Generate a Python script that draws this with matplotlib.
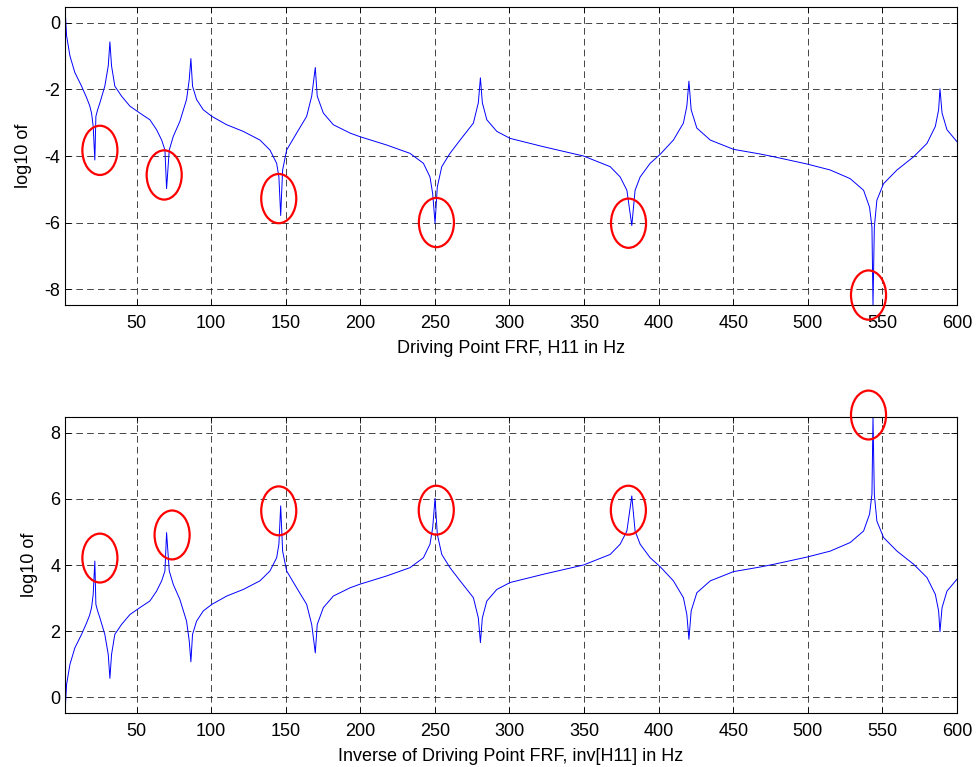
import matplotlib
matplotlib.use("Agg")
import matplotlib.pyplot as plt
from matplotlib.patches import Ellipse
import numpy as np

plt.rcParams['font.family'] = ['Liberation Sans', 'DejaVu Sans']
plt.rcParams['axes.unicode_minus'] = False

# --- Driving point FRF, log10|H11| read along the frequency axis ---
freq_hz = [
    2.0, 3.05, 5.3, 8.6, 13.1, 16.5, 18.5, 19.8, 20.9, 22.0, 22.7,
    23.8, 25.4, 28.7, 31.0, 32.1, 33.2, 35.4, 39.9, 45.5, 52.2, 58.9,
    63.4, 66.8, 69.0, 70.1, 71.9, 74.6, 79.0, 83.5, 85.3, 86.4,
    87.5, 90.2, 94.7, 100.5, 110.4, 121.5, 132.7, 139.4, 143.9, 145.4,
    146.6, 147.9, 150.6, 157.3, 164.0, 167.4, 169.8, 171.1, 175.2, 181.9,
    193.1, 199.8, 217.7, 233.3, 242.3, 246.7, 248.5, 250.1, 251.6, 254.6,
    260.1, 266.9, 275.8, 279.1, 280.5, 281.8, 284.8, 291.5, 300.4, 322.7,
    349.6, 367.5, 374.2, 378.7, 382.0, 384.2, 387.6, 394.3, 401.0, 409.9,
    416.6, 418.9, 420.3, 421.8, 425.6, 434.6, 450.2, 468.1, 477.0, 499.4,
    515.0, 528.4, 537.4, 541.4, 543.0, 543.7, 544.6, 546.3, 550.8, 559.8,
    571.0, 579.9, 585.5, 587.7, 588.6, 590.0, 593.3, 600.0,
]
log_h11 = [
    0.48, -0.38, -0.99, -1.49, -1.90, -2.25, -2.48, -2.71, -3.11, -4.12, -2.81,
    -2.62, -2.40, -1.90, -1.29, -0.57, -1.29, -1.90, -2.20, -2.50, -2.71, -2.91,
    -3.21, -3.52, -3.82, -4.98, -3.82, -3.41, -2.96, -2.30, -1.70, -1.07,
    -1.90, -2.30, -2.61, -2.81, -3.06, -3.26, -3.52, -3.82, -4.22, -4.63,
    -5.79, -4.42, -3.82, -3.31, -2.81, -2.20, -1.34, -2.20, -2.71, -3.06,
    -3.31, -3.42, -3.67, -3.92, -4.22, -4.63, -5.13, -6.02, -4.93, -4.32,
    -3.92, -3.52, -3.01, -2.40, -1.65, -2.40, -2.91, -3.26, -3.47, -3.72,
    -4.00, -4.32, -4.63, -5.03, -6.09, -5.03, -4.63, -4.22, -3.95, -3.52,
    -3.01, -2.50, -1.75, -2.61, -3.16, -3.52, -3.80, -3.94, -4.02, -4.24,
    -4.42, -4.68, -5.03, -5.54, -6.14, -8.48, -6.14, -5.33, -4.83, -4.42,
    -4.02, -3.62, -3.11, -2.61, -1.98, -2.71, -3.21, -3.57,
]

# antiresonances marked on H11, and the matching resonances of inv[H11]
mark_f_top = [25.4, 68.5, 145.3, 251.0, 379.8, 540.7]
mark_y_top = [-3.83, -4.57, -5.28, -6.00, -6.02, -8.18]
mark_f_bot = [25.4, 73.8, 145.3, 250.9, 379.7, 540.7]
mark_y_bot = [4.21, 4.91, 5.64, 5.66, 5.66, 8.54]

f = np.array(freq_hz)
h = np.array(log_h11)
inv_h = -h  # log10(1/H11)

fig = plt.figure(figsize=(9.76, 7.67), dpi=100)
ax1 = fig.add_axes([0.0666, 0.6023, 0.9139, 0.3886])
ax2 = fig.add_axes([0.0666, 0.0704, 0.9139, 0.3859])

panels = [
    (ax1, h, mark_f_top, mark_y_top, [0, -2, -4, -6, -8],
     'Driving Point FRF, H11 in Hz'),
    (ax2, inv_h, mark_f_bot, mark_y_bot, [0, 2, 4, 6, 8],
     'Inverse of Driving Point FRF, inv[H11] in Hz'),
]

for ax, y, mf, my, yt, xl in panels:
    ax.plot(f, y, color='#0000ff', lw=0.7)
    ax.set_xlim(f.min(), f.max())
    ax.set_ylim(y.min(), y.max())
    ax.set_xticks(np.arange(50, 601, 50))
    ax.set_yticks(yt)
    ax.grid(True, color='0.15', linestyle=(0, (8, 5)), linewidth=0.6)
    ax.tick_params(direction='in', top=True, right=True, length=4,
                   labelsize=13, width=0.6)
    ax.tick_params(axis='x', pad=7)
    for s in ax.spines.values():
        s.set_linewidth(0.8)
    ax.set_xlabel(xl, fontsize=13, labelpad=6)
    ax.set_ylabel('log10 of', fontsize=13, labelpad=9)
    for cx, cy in zip(mf, my):
        ax.add_patch(Ellipse((cx, cy), width=23.5, height=1.48, fill=False,
                             edgecolor='red', lw=1.6, clip_on=False, zorder=5))

fig.savefig('out.png', dpi=100)
